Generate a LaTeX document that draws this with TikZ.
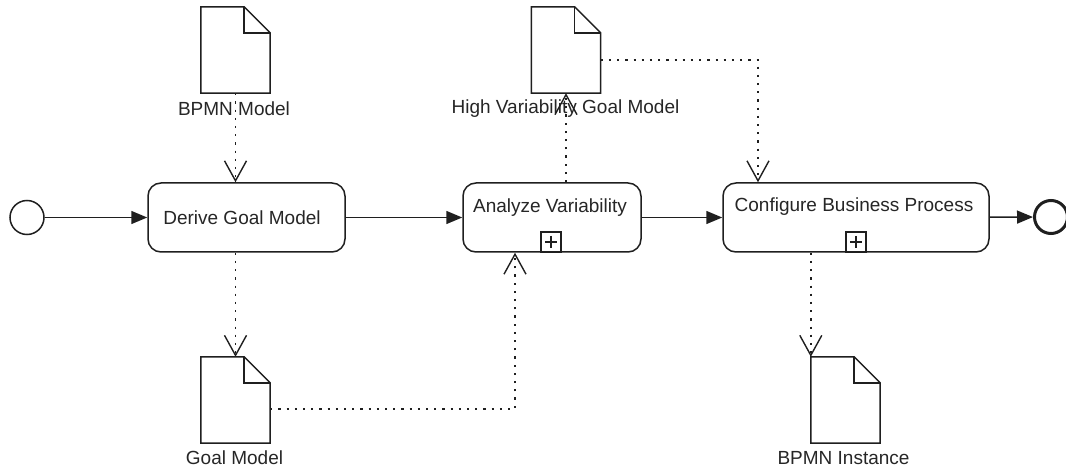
\documentclass[tikz,border=0pt]{standalone}
\usepackage{fontspec}
\setmainfont{Liberation Sans}
\usetikzlibrary{arrows.meta,calc}

\tikzset{
  ink/.style={draw=black!88, line width=1.5pt},
  txt/.style={font=\fontsize{19}{21}\selectfont, text=black!85, inner sep=0pt},
  task/.style={ink, rounded corners=13pt, fill=white, minimum height=69pt, inner sep=0pt},
  marker/.style={ink, fill=white, minimum size=20pt, inner sep=0pt, anchor=south,
    path picture={\draw[black!88, line width=1.3pt]
      ([yshift=-4pt]path picture bounding box.north) -- ([yshift=4pt]path picture bounding box.south)
      ([xshift=4pt]path picture bounding box.west) -- ([xshift=-4pt]path picture bounding box.east);}},
  docnode/.style={minimum width=69pt, minimum height=86pt, inner sep=0pt},
  startev/.style={circle, ink, minimum size=34pt, inner sep=0pt},
  endev/.style={circle, draw=black!88, line width=3pt, minimum size=33pt, inner sep=0pt},
  seqflow/.style={ink, -{Triangle[length=16pt,width=13pt]}},
  assoc/.style={draw=black!88, line width=1.8pt, dash pattern=on 2.2pt off 6pt,
    -{Straight Barb[length=20pt,width=22pt,line width=1.4pt]}},
}

\begin{document}
\begin{tikzpicture}[x=1pt,y=-1pt]
  \useasboundingbox (0,0) rectangle (1066,470);

  % events
  \node[startev] (start) at (27,217.5) {};
  \node[endev] (end) at (1051,217) {};

  % activities
  \node[task, minimum width=197pt] (derive) at (246.5,217.5) {};
  \node[txt] (derive-t) at (242,217.5) {Derive Goal Model};

  \node[task, minimum width=178pt] (analyze) at (552,217.5) {};
  \node[txt] (analyze-t) at (550,208) {Analyze Variability};
  \node[marker] (analyze-m) at ([xshift=-1pt]analyze.south) {};

  \node[task, minimum width=266pt] (configure) at (856,217.5) {};
  \node[txt] (configure-t) at (854,207) {Configure Business Process};
  \node[marker] (configure-m) at (configure.south) {};

  % data objects
  \node[docnode] (bpmn) at (235.5,50) {};
  \node[docnode] (hvgm) at (566,50) {};
  \node[docnode] (gm)   at (235.5,400) {};
  \node[docnode] (inst) at (845.5,400) {};

  \foreach \d in {bpmn,hvgm,gm,inst}{
    \draw[ink, line join=miter, fill=white]
      (\d.north west) -- ([xshift=-26pt]\d.north east) -- ([yshift=-26pt]\d.north east)
      -- (\d.south east) -- (\d.south west) -- cycle;
    \draw[ink, line join=miter]
      ([xshift=-26pt]\d.north east) |- ([yshift=-26pt]\d.north east);
  }

  \node[txt] (bpmn-l) at (234,109) {BPMN Model};
  \node[txt] (hvgm-l) at (565.5,109) {High Variability Goal Model};
  \node[txt] (gm-l)   at (234.5,458) {Goal Model};
  \node[txt] (inst-l) at (843.5,458) {BPMN Instance};

  % sequence flows
  \draw[seqflow] (start) -- (derive);
  \draw[seqflow] (derive) -- (analyze);
  \draw[seqflow] (analyze) -- (configure);
  \draw[seqflow] (configure) -- (end);

  % data associations
  \draw[assoc] (bpmn.south) -- (bpmn.south |- derive.north);
  \draw[assoc] (derive.south -| gm.north) -- (gm.north);
  \draw[assoc] ([yshift=-9pt]gm.east) -| ([xshift=-37pt]analyze.south);
  \draw[assoc] (analyze.north -| hvgm.south) -- (hvgm.south);
  \draw[assoc] ([yshift=-10pt]hvgm.east) -| ([xshift=-98pt]configure.north);
  \draw[assoc] (configure.south -| inst.north west) -- (inst.north west);
\end{tikzpicture}
\end{document}
